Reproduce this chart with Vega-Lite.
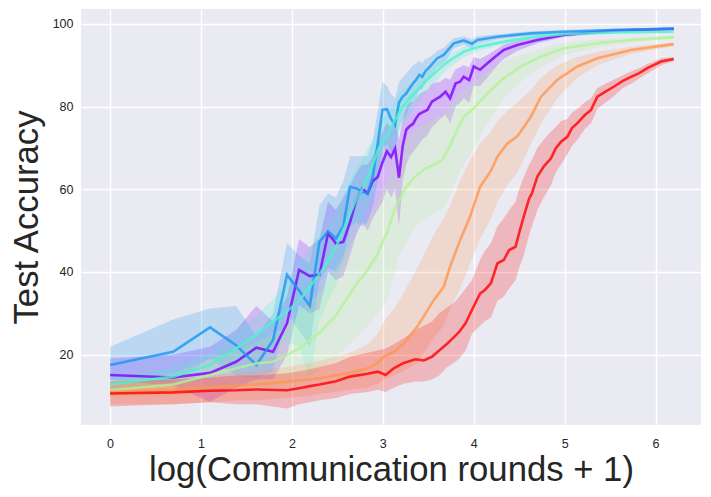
{
  "$schema": "https://vega.github.io/schema/vega-lite/v6.json",
  "width": 620,
  "height": 416,
  "autosize": {"type": "none"},
  "padding": {"left": 81, "top": 9, "right": 10, "bottom": 72},
  "background": "white",
  "datasets": {
    "runs": [
      {"s":"s1","x":0,"y":15.1,"lo":13.9,"hi":19.1},
      {"s":"s1","x":0.693,"y":14.5,"lo":12.5,"hi":20},
      {"s":"s1","x":1.099,"y":15.6,"lo":8.6,"hi":21.9},
      {"s":"s1","x":1.386,"y":18.3,"lo":12,"hi":26},
      {"s":"s1","x":1.609,"y":21.7,"lo":14,"hi":31.8},
      {"s":"s1","x":1.792,"y":20.7,"lo":14,"hi":28},
      {"s":"s1","x":1.946,"y":27.6,"lo":20,"hi":34},
      {"s":"s1","x":2.079,"y":40.5,"lo":32,"hi":48},
      {"s":"s1","x":2.197,"y":39,"lo":30,"hi":46},
      {"s":"s1","x":2.303,"y":39.3,"lo":31,"hi":48},
      {"s":"s1","x":2.398,"y":49.4,"lo":40,"hi":57},
      {"s":"s1","x":2.485,"y":46.9,"lo":38,"hi":55},
      {"s":"s1","x":2.565,"y":47.3,"lo":39,"hi":58},
      {"s":"s1","x":2.639,"y":52,"lo":44,"hi":61},
      {"s":"s1","x":2.708,"y":57.4,"lo":49,"hi":64},
      {"s":"s1","x":2.773,"y":60.2,"lo":52,"hi":66},
      {"s":"s1","x":2.833,"y":59,"lo":50,"hi":66},
      {"s":"s1","x":2.89,"y":62,"lo":53,"hi":68},
      {"s":"s1","x":2.944,"y":63,"lo":55,"hi":71},
      {"s":"s1","x":2.996,"y":66.5,"lo":57,"hi":74},
      {"s":"s1","x":3.045,"y":69.2,"lo":60,"hi":76},
      {"s":"s1","x":3.091,"y":67.8,"lo":58,"hi":75},
      {"s":"s1","x":3.135,"y":69.8,"lo":60,"hi":77},
      {"s":"s1","x":3.178,"y":62.8,"lo":51,"hi":72},
      {"s":"s1","x":3.219,"y":70.5,"lo":62,"hi":77},
      {"s":"s1","x":3.258,"y":74.4,"lo":66,"hi":80},
      {"s":"s1","x":3.296,"y":75.3,"lo":68,"hi":81},
      {"s":"s1","x":3.332,"y":75.8,"lo":69,"hi":81},
      {"s":"s1","x":3.367,"y":77.2,"lo":70,"hi":82},
      {"s":"s1","x":3.401,"y":78.2,"lo":71,"hi":83},
      {"s":"s1","x":3.434,"y":78.6,"lo":72,"hi":83.5},
      {"s":"s1","x":3.49,"y":79.2,"lo":73,"hi":84},
      {"s":"s1","x":3.54,"y":81.2,"lo":75,"hi":85.5},
      {"s":"s1","x":3.63,"y":82.4,"lo":77,"hi":86},
      {"s":"s1","x":3.69,"y":83.6,"lo":78,"hi":87},
      {"s":"s1","x":3.74,"y":82,"lo":76,"hi":86.5},
      {"s":"s1","x":3.8,"y":85.6,"lo":80,"hi":89},
      {"s":"s1","x":3.85,"y":86,"lo":81,"hi":89.5},
      {"s":"s1","x":3.89,"y":87.2,"lo":82,"hi":90},
      {"s":"s1","x":3.95,"y":86.4,"lo":81,"hi":89.5},
      {"s":"s1","x":4,"y":89.7,"lo":85,"hi":92},
      {"s":"s1","x":4.07,"y":88.9,"lo":85,"hi":91.5},
      {"s":"s1","x":4.15,"y":90.5,"lo":87,"hi":92.5},
      {"s":"s1","x":4.26,"y":92.5,"lo":90,"hi":94},
      {"s":"s1","x":4.33,"y":93.7,"lo":91.5,"hi":95},
      {"s":"s1","x":4.48,"y":94.9,"lo":93.5,"hi":96},
      {"s":"s1","x":4.7,"y":96.1,"lo":95.3,"hi":96.8},
      {"s":"s1","x":4.99,"y":97.3,"lo":96.8,"hi":97.8},
      {"s":"s1","x":5.54,"y":98.4,"lo":98,"hi":98.7},
      {"s":"s1","x":6.2,"y":98.8,"lo":98.6,"hi":99},

      {"s":"s2","x":0,"y":17.5,"lo":13,"hi":21.9},
      {"s":"s2","x":0.693,"y":20.7,"lo":13.5,"hi":28.5},
      {"s":"s2","x":1.099,"y":26.6,"lo":19,"hi":31.2},
      {"s":"s2","x":1.386,"y":22.3,"lo":15,"hi":31.8},
      {"s":"s2","x":1.609,"y":17.5,"lo":14.3,"hi":24.5},
      {"s":"s2","x":1.792,"y":23.5,"lo":16,"hi":30},
      {"s":"s2","x":1.946,"y":39.3,"lo":30,"hi":47},
      {"s":"s2","x":2.079,"y":35.5,"lo":26,"hi":44},
      {"s":"s2","x":2.197,"y":31.8,"lo":22,"hi":42},
      {"s":"s2","x":2.303,"y":47.3,"lo":38,"hi":56},
      {"s":"s2","x":2.398,"y":49.8,"lo":41,"hi":59},
      {"s":"s2","x":2.485,"y":48.1,"lo":40,"hi":58},
      {"s":"s2","x":2.565,"y":51,"lo":43,"hi":62},
      {"s":"s2","x":2.639,"y":60.6,"lo":51,"hi":68},
      {"s":"s2","x":2.708,"y":60.2,"lo":52,"hi":68},
      {"s":"s2","x":2.773,"y":59.4,"lo":51,"hi":68},
      {"s":"s2","x":2.833,"y":59,"lo":52,"hi":68},
      {"s":"s2","x":2.89,"y":63.1,"lo":56,"hi":72},
      {"s":"s2","x":2.944,"y":71,"lo":62,"hi":79},
      {"s":"s2","x":2.996,"y":79.2,"lo":70,"hi":86},
      {"s":"s2","x":3.045,"y":79.4,"lo":71,"hi":85},
      {"s":"s2","x":3.091,"y":77,"lo":69,"hi":83},
      {"s":"s2","x":3.135,"y":75.6,"lo":69,"hi":82},
      {"s":"s2","x":3.178,"y":81,"lo":75,"hi":86},
      {"s":"s2","x":3.219,"y":82.4,"lo":77,"hi":87},
      {"s":"s2","x":3.258,"y":83.2,"lo":78,"hi":88},
      {"s":"s2","x":3.296,"y":84.5,"lo":80,"hi":89},
      {"s":"s2","x":3.332,"y":85.6,"lo":81,"hi":90},
      {"s":"s2","x":3.367,"y":86.5,"lo":82,"hi":90.5},
      {"s":"s2","x":3.401,"y":87.7,"lo":84,"hi":91},
      {"s":"s2","x":3.434,"y":87.2,"lo":84,"hi":90.5},
      {"s":"s2","x":3.466,"y":88.5,"lo":85.5,"hi":91.5},
      {"s":"s2","x":3.52,"y":89.7,"lo":87,"hi":92},
      {"s":"s2","x":3.6,"y":91.7,"lo":89.5,"hi":93.5},
      {"s":"s2","x":3.67,"y":92.5,"lo":90.5,"hi":94.2},
      {"s":"s2","x":3.78,"y":95.3,"lo":94,"hi":96.5},
      {"s":"s2","x":3.89,"y":96,"lo":95,"hi":97},
      {"s":"s2","x":3.98,"y":95.2,"lo":94,"hi":96.3},
      {"s":"s2","x":4.04,"y":96.1,"lo":95.2,"hi":97},
      {"s":"s2","x":4.26,"y":96.9,"lo":96.2,"hi":97.5},
      {"s":"s2","x":4.63,"y":97.7,"lo":97.2,"hi":98.2},
      {"s":"s2","x":4.99,"y":98.1,"lo":97.7,"hi":98.5},
      {"s":"s2","x":5.54,"y":98.5,"lo":98.2,"hi":98.8},
      {"s":"s2","x":6.2,"y":98.9,"lo":98.7,"hi":99.1},

      {"s":"s3","x":0,"y":12.8,"lo":11,"hi":14.5},
      {"s":"s3","x":0.693,"y":14.7,"lo":12.5,"hi":17},
      {"s":"s3","x":1.099,"y":17.5,"lo":14.5,"hi":20.5},
      {"s":"s3","x":1.386,"y":21.5,"lo":17.5,"hi":25.5},
      {"s":"s3","x":1.609,"y":24.8,"lo":20,"hi":29.5},
      {"s":"s3","x":1.792,"y":28,"lo":22,"hi":33.5},
      {"s":"s3","x":1.946,"y":30.5,"lo":23,"hi":37.5},
      {"s":"s3","x":2.079,"y":33,"lo":22,"hi":42},
      {"s":"s3","x":2.197,"y":36.4,"lo":14,"hi":46},
      {"s":"s3","x":2.303,"y":39.5,"lo":28,"hi":49},
      {"s":"s3","x":2.398,"y":42.5,"lo":33,"hi":51},
      {"s":"s3","x":2.485,"y":46,"lo":37,"hi":55},
      {"s":"s3","x":2.565,"y":50.2,"lo":42,"hi":58},
      {"s":"s3","x":2.639,"y":54,"lo":46,"hi":62},
      {"s":"s3","x":2.708,"y":57.5,"lo":50,"hi":65},
      {"s":"s3","x":2.773,"y":60,"lo":53,"hi":67},
      {"s":"s3","x":2.833,"y":63,"lo":56,"hi":70},
      {"s":"s3","x":2.89,"y":66,"lo":59,"hi":72},
      {"s":"s3","x":2.944,"y":69.3,"lo":63,"hi":75},
      {"s":"s3","x":2.996,"y":71.5,"lo":66,"hi":77},
      {"s":"s3","x":3.045,"y":72.8,"lo":67,"hi":78},
      {"s":"s3","x":3.091,"y":75,"lo":70,"hi":80},
      {"s":"s3","x":3.135,"y":76.8,"lo":72,"hi":81},
      {"s":"s3","x":3.178,"y":78.5,"lo":74,"hi":83},
      {"s":"s3","x":3.219,"y":80,"lo":76,"hi":84},
      {"s":"s3","x":3.296,"y":82,"lo":78,"hi":85.5},
      {"s":"s3","x":3.38,"y":84,"lo":80.5,"hi":87},
      {"s":"s3","x":3.49,"y":86.5,"lo":84,"hi":89},
      {"s":"s3","x":3.63,"y":89.3,"lo":87,"hi":91},
      {"s":"s3","x":3.71,"y":90.8,"lo":89,"hi":92.3},
      {"s":"s3","x":3.89,"y":93.3,"lo":92,"hi":94.5},
      {"s":"s3","x":4.07,"y":94.5,"lo":93.5,"hi":95.4},
      {"s":"s3","x":4.33,"y":95.7,"lo":95,"hi":96.3},
      {"s":"s3","x":4.63,"y":96.8,"lo":96.3,"hi":97.2},
      {"s":"s3","x":4.99,"y":97.5,"lo":97.1,"hi":97.8},
      {"s":"s3","x":5.54,"y":97.9,"lo":97.6,"hi":98.2},
      {"s":"s3","x":6.2,"y":98.1,"lo":97.9,"hi":98.3},

      {"s":"s4","x":0,"y":11.4,"lo":9.5,"hi":13.5},
      {"s":"s4","x":0.693,"y":12.8,"lo":10,"hi":15.5},
      {"s":"s4","x":1.099,"y":15.1,"lo":11,"hi":19},
      {"s":"s4","x":1.386,"y":16.7,"lo":12,"hi":21},
      {"s":"s4","x":1.609,"y":17.9,"lo":12.5,"hi":23},
      {"s":"s4","x":1.792,"y":18.3,"lo":12,"hi":25},
      {"s":"s4","x":1.946,"y":19.9,"lo":13,"hi":27},
      {"s":"s4","x":2.079,"y":21.5,"lo":14,"hi":30},
      {"s":"s4","x":2.197,"y":23.5,"lo":15,"hi":33},
      {"s":"s4","x":2.303,"y":25.2,"lo":16,"hi":35},
      {"s":"s4","x":2.398,"y":27.5,"lo":18,"hi":38},
      {"s":"s4","x":2.485,"y":29.5,"lo":19,"hi":41},
      {"s":"s4","x":2.565,"y":32.3,"lo":21,"hi":44},
      {"s":"s4","x":2.708,"y":37,"lo":24,"hi":49},
      {"s":"s4","x":2.833,"y":40.5,"lo":27,"hi":53},
      {"s":"s4","x":2.944,"y":44.5,"lo":30,"hi":57},
      {"s":"s4","x":3.045,"y":49.5,"lo":33,"hi":62},
      {"s":"s4","x":3.135,"y":55.5,"lo":40,"hi":67},
      {"s":"s4","x":3.178,"y":57.4,"lo":44,"hi":69},
      {"s":"s4","x":3.258,"y":60.6,"lo":47,"hi":72},
      {"s":"s4","x":3.332,"y":62.5,"lo":50,"hi":74},
      {"s":"s4","x":3.401,"y":63.9,"lo":52,"hi":75},
      {"s":"s4","x":3.466,"y":65,"lo":53,"hi":76},
      {"s":"s4","x":3.56,"y":65.9,"lo":54,"hi":77},
      {"s":"s4","x":3.65,"y":67,"lo":55,"hi":78},
      {"s":"s4","x":3.74,"y":70.5,"lo":58,"hi":80},
      {"s":"s4","x":3.78,"y":72.7,"lo":61,"hi":81.5},
      {"s":"s4","x":3.89,"y":77.6,"lo":66,"hi":84},
      {"s":"s4","x":4,"y":79.6,"lo":70,"hi":86},
      {"s":"s4","x":4.15,"y":83.2,"lo":76,"hi":88.5},
      {"s":"s4","x":4.33,"y":86.9,"lo":82,"hi":91},
      {"s":"s4","x":4.52,"y":89.7,"lo":86,"hi":92.5},
      {"s":"s4","x":4.74,"y":92.1,"lo":89.5,"hi":94},
      {"s":"s4","x":4.99,"y":94.1,"lo":92.5,"hi":95.5},
      {"s":"s4","x":5.36,"y":95.3,"lo":94.3,"hi":96.2},
      {"s":"s4","x":5.73,"y":96.1,"lo":95.5,"hi":96.7},
      {"s":"s4","x":6.2,"y":96.8,"lo":96.4,"hi":97.2},

      {"s":"s5","x":0,"y":11,"lo":8,"hi":13.5},
      {"s":"s5","x":0.693,"y":11.5,"lo":8,"hi":14},
      {"s":"s5","x":1.099,"y":12.2,"lo":8.5,"hi":15},
      {"s":"s5","x":1.386,"y":12.5,"lo":9,"hi":15.5},
      {"s":"s5","x":1.609,"y":12.8,"lo":9,"hi":16},
      {"s":"s5","x":1.946,"y":13.5,"lo":9.5,"hi":17},
      {"s":"s5","x":2.197,"y":14,"lo":10,"hi":18},
      {"s":"s5","x":2.303,"y":14.3,"lo":10.5,"hi":18.5},
      {"s":"s5","x":2.485,"y":15,"lo":11,"hi":19.5},
      {"s":"s5","x":2.639,"y":15.6,"lo":11.5,"hi":20.5},
      {"s":"s5","x":2.833,"y":16.7,"lo":12,"hi":22.5},
      {"s":"s5","x":2.944,"y":18,"lo":13,"hi":25},
      {"s":"s5","x":3.01,"y":19.5,"lo":14,"hi":28},
      {"s":"s5","x":3.12,"y":20.7,"lo":15,"hi":31},
      {"s":"s5","x":3.23,"y":22.7,"lo":16,"hi":35},
      {"s":"s5","x":3.38,"y":26.8,"lo":18,"hi":41},
      {"s":"s5","x":3.56,"y":33.2,"lo":24,"hi":49},
      {"s":"s5","x":3.67,"y":36.4,"lo":27,"hi":53},
      {"s":"s5","x":3.74,"y":41.3,"lo":31,"hi":56},
      {"s":"s5","x":3.85,"y":47.7,"lo":36,"hi":62},
      {"s":"s5","x":3.96,"y":53.4,"lo":42,"hi":67},
      {"s":"s5","x":4.07,"y":60.6,"lo":48,"hi":71},
      {"s":"s5","x":4.19,"y":64.5,"lo":53,"hi":74},
      {"s":"s5","x":4.26,"y":67.9,"lo":57,"hi":76.5},
      {"s":"s5","x":4.37,"y":71.1,"lo":61,"hi":79},
      {"s":"s5","x":4.48,"y":72.8,"lo":64,"hi":81},
      {"s":"s5","x":4.63,"y":77.6,"lo":71,"hi":84},
      {"s":"s5","x":4.74,"y":82.4,"lo":76,"hi":87},
      {"s":"s5","x":4.92,"y":86.5,"lo":82,"hi":90},
      {"s":"s5","x":5.14,"y":89.7,"lo":87,"hi":92},
      {"s":"s5","x":5.36,"y":91.7,"lo":90,"hi":93.2},
      {"s":"s5","x":5.73,"y":93.7,"lo":92.8,"hi":94.5},
      {"s":"s5","x":6.2,"y":95.1,"lo":94.6,"hi":95.5},

      {"s":"s6","x":0,"y":10.6,"lo":7.5,"hi":13.5},
      {"s":"s6","x":0.693,"y":10.9,"lo":8,"hi":14},
      {"s":"s6","x":1.099,"y":11.3,"lo":8.5,"hi":14.5},
      {"s":"s6","x":1.386,"y":11.4,"lo":8,"hi":15},
      {"s":"s6","x":1.609,"y":11.6,"lo":8,"hi":15},
      {"s":"s6","x":1.946,"y":11.4,"lo":7,"hi":15.5},
      {"s":"s6","x":2.079,"y":11.9,"lo":8,"hi":16},
      {"s":"s6","x":2.197,"y":12.4,"lo":8.5,"hi":16.5},
      {"s":"s6","x":2.303,"y":12.8,"lo":9,"hi":17},
      {"s":"s6","x":2.485,"y":13.6,"lo":9.5,"hi":18},
      {"s":"s6","x":2.639,"y":14.7,"lo":10.5,"hi":19.5},
      {"s":"s6","x":2.833,"y":15.4,"lo":11,"hi":20.5},
      {"s":"s6","x":2.944,"y":15.9,"lo":11.5,"hi":21},
      {"s":"s6","x":3.03,"y":15.1,"lo":11,"hi":21.5},
      {"s":"s6","x":3.12,"y":16.7,"lo":12,"hi":22.5},
      {"s":"s6","x":3.23,"y":18,"lo":13,"hi":24},
      {"s":"s6","x":3.36,"y":18.9,"lo":13.5,"hi":26},
      {"s":"s6","x":3.45,"y":18.6,"lo":13.5,"hi":27},
      {"s":"s6","x":3.54,"y":19.5,"lo":14,"hi":28},
      {"s":"s6","x":3.62,"y":21,"lo":15,"hi":30},
      {"s":"s6","x":3.71,"y":22.7,"lo":17,"hi":31.5},
      {"s":"s6","x":3.78,"y":24.2,"lo":18,"hi":32.5},
      {"s":"s6","x":3.84,"y":25.5,"lo":19,"hi":34},
      {"s":"s6","x":3.91,"y":27.6,"lo":21,"hi":36},
      {"s":"s6","x":3.98,"y":30.8,"lo":25,"hi":38},
      {"s":"s6","x":4.07,"y":34.8,"lo":27,"hi":43},
      {"s":"s6","x":4.12,"y":35.6,"lo":28,"hi":45},
      {"s":"s6","x":4.19,"y":37.3,"lo":29,"hi":47},
      {"s":"s6","x":4.26,"y":42.1,"lo":33,"hi":51},
      {"s":"s6","x":4.33,"y":42.9,"lo":34,"hi":53},
      {"s":"s6","x":4.39,"y":45.3,"lo":36,"hi":55},
      {"s":"s6","x":4.46,"y":46.1,"lo":38,"hi":57},
      {"s":"s6","x":4.5,"y":49.5,"lo":41,"hi":60},
      {"s":"s6","x":4.55,"y":53.4,"lo":44,"hi":63},
      {"s":"s6","x":4.61,"y":57.8,"lo":49,"hi":66},
      {"s":"s6","x":4.64,"y":59,"lo":51,"hi":67},
      {"s":"s6","x":4.7,"y":63.1,"lo":55,"hi":70},
      {"s":"s6","x":4.77,"y":65.5,"lo":58,"hi":72},
      {"s":"s6","x":4.85,"y":67.5,"lo":61,"hi":74},
      {"s":"s6","x":4.9,"y":69.8,"lo":64,"hi":75},
      {"s":"s6","x":4.96,"y":71.5,"lo":66,"hi":76.5},
      {"s":"s6","x":5.03,"y":72.7,"lo":68.5,"hi":77},
      {"s":"s6","x":5.08,"y":74.8,"lo":70.5,"hi":78.5},
      {"s":"s6","x":5.14,"y":76,"lo":72,"hi":79.5},
      {"s":"s6","x":5.22,"y":77.9,"lo":74.5,"hi":81},
      {"s":"s6","x":5.29,"y":79.2,"lo":76,"hi":82},
      {"s":"s6","x":5.36,"y":82.4,"lo":79.5,"hi":84.5},
      {"s":"s6","x":5.45,"y":83.6,"lo":81,"hi":85.5},
      {"s":"s6","x":5.54,"y":84.8,"lo":82.5,"hi":86.5},
      {"s":"s6","x":5.64,"y":86.2,"lo":84.5,"hi":87.6},
      {"s":"s6","x":5.73,"y":87.2,"lo":85.5,"hi":88.5},
      {"s":"s6","x":5.82,"y":88.1,"lo":86.8,"hi":89.3},
      {"s":"s6","x":5.91,"y":89.3,"lo":88,"hi":90.3},
      {"s":"s6","x":6.06,"y":90.9,"lo":90,"hi":91.7},
      {"s":"s6","x":6.2,"y":91.5,"lo":91,"hi":92}
    ]
  },
  "data": {"name": "runs"},
  "encoding": {
    "x": {
      "field": "x",
      "type": "quantitative",
      "title": "log(Communication rounds + 1)",
      "scale": {"domain": [-0.32, 6.5], "nice": false, "zero": false},
      "axis": {"values": [0, 1, 2, 3, 4, 5, 6], "format": "d", "labelPadding": 12, "titleY": 55, "titleBaseline": "alphabetic"}
    },
    "color": {
      "field": "s",
      "type": "nominal",
      "legend": null,
      "scale": {
        "domain": ["s1", "s2", "s3", "s4", "s5", "s6"],
        "range": ["#8000ff", "#1996f2", "#4cf2ce", "#b2f296", "#ff964f", "#ff0000"]
      }
    }
  },
  "layer": [
    {
      "mark": {"type": "area", "opacity": 0.22},
      "encoding": {
        "y": {
          "field": "lo",
          "type": "quantitative",
          "title": "Test Accuracy",
          "scale": {"domain": [3, 103.6], "nice": false, "zero": false},
          "axis": {"values": [20, 40, 60, 80, 100], "labelPadding": 8, "titleX": -44, "titleBaseline": "alphabetic"}
        },
        "y2": {"field": "hi"}
      }
    },
    {
      "mark": {"type": "line", "strokeWidth": 2.6, "opacity": 0.8},
      "encoding": {
        "y": {"field": "y", "type": "quantitative"}
      }
    }
  ],
  "config": {
    "font": "Liberation Sans",
    "view": {"fill": "#EAEAF2", "stroke": null},
    "axis": {
      "domain": false,
      "ticks": false,
      "tickSize": 0,
      "grid": true,
      "gridColor": "#ffffff",
      "gridWidth": 1.4,
      "gridOpacity": 1,
      "labelFont": "Liberation Sans",
      "labelFontSize": 12.5,
      "labelColor": "#262626",
      "titleFont": "Liberation Sans",
      "titleFontSize": 34.7,
      "titleFontWeight": "normal",
      "titleColor": "#262626"
    }
  }
}
